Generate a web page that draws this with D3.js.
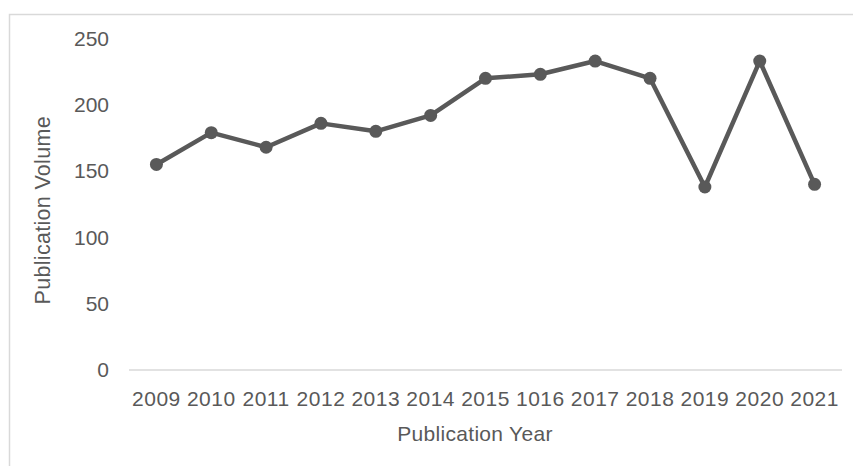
<!DOCTYPE html>
<html><head><meta charset="utf-8">
<script src="https://cdn.jsdelivr.net/npm/d3@7"></script>
<style>html,body{margin:0;padding:0;background:#fff;}svg{display:block;}</style>
</head><body>
<svg id="chart" width="853" height="466"></svg>
<script>
const years = ["2009","2010","2011","2012","2013","2014","2015","1016","2017","2018","2019","2020","2021"];
const volumes = [155, 179, 168, 186, 180, 192, 220, 223, 233, 220, 138, 233, 140];
const yTicks = [0, 50, 100, 150, 200, 250];
const xTitle = "Publication Year";
const yTitle = "Publication Volume";

const svg = d3.select("#chart");
const font = "'Liberation Sans', Arial, sans-serif";
const textColor = "#595959";

// outer border (top & left visible)
svg.append("rect").attr("x", 9.5).attr("y", 14.5).attr("width", 860).attr("height", 470)
  .attr("fill", "none").attr("stroke", "#d9d9d9").attr("stroke-width", 1.5);

const x = d3.scaleBand().domain(years).range([129, 842]);
const y = d3.scaleLinear().domain([0, 250]).range([370, 38.5]);

// x axis baseline
svg.append("line").attr("x1", x.range()[0]).attr("x2", x.range()[1])
  .attr("y1", y(0)).attr("y2", y(0)).attr("stroke", "#d9d9d9").attr("stroke-width", 1.5);

// y tick labels
svg.append("g").selectAll("text").data(yTicks).join("text")
  .attr("x", 109).attr("y", d => y(d)).attr("dy", "0.35em")
  .attr("text-anchor", "end").attr("font-family", font).attr("font-size", 21)
  .attr("fill", textColor).text(d => d);

// x tick labels
svg.append("g").selectAll("text").data(years).join("text")
  .attr("x", d => x(d) + x.bandwidth() / 2).attr("y", 406)
  .attr("text-anchor", "middle").attr("font-family", font).attr("font-size", 21)
  .attr("letter-spacing", 0.5)
  .attr("fill", textColor).text(d => d);

// axis titles
svg.append("text").attr("x", 475).attr("y", 441).attr("text-anchor", "middle")
  .attr("font-family", font).attr("font-size", 21).attr("letter-spacing", 0.3)
  .attr("fill", textColor).text(xTitle);
svg.append("text").attr("transform", `translate(50,${(y(0)+y(250))/2 + 6}) rotate(-90)`)
  .attr("text-anchor", "middle").attr("font-family", font).attr("font-size", 21.5)
  .attr("letter-spacing", 0.3)
  .attr("fill", textColor).text(yTitle);

const data = years.map((yr, i) => ({ yr, v: volumes[i] }));
const line = d3.line().x(d => x(d.yr) + x.bandwidth() / 2).y(d => y(d.v));
svg.append("path").datum(data).attr("d", line).attr("fill", "none")
  .attr("stroke", "#595959").attr("stroke-width", 4.5).attr("stroke-linejoin", "round");
svg.append("g").selectAll("circle").data(data).join("circle")
  .attr("cx", d => x(d.yr) + x.bandwidth() / 2).attr("cy", d => y(d.v))
  .attr("r", 6.5).attr("fill", "#595959");
</script>
</body></html>
